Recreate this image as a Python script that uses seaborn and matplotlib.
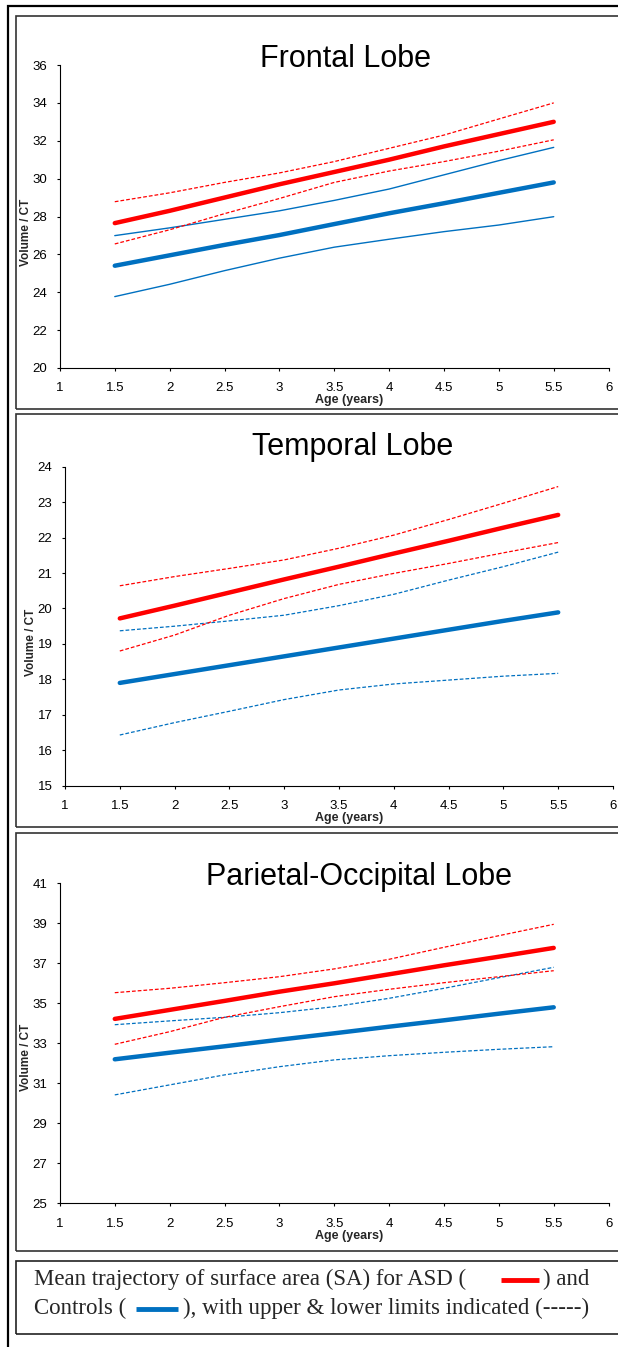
import matplotlib
matplotlib.use("Agg")
import matplotlib.pyplot as plt
from matplotlib.patches import Rectangle
from matplotlib.lines import Line2D
import seaborn as sns

# ---------------- data ----------------
ages = [1.5, 2, 2.5, 3, 3.5, 4, 4.5, 5, 5.5]

frontal_asd_mean = [27.65, 28.3, 29.0, 29.7, 30.35, 31.0, 31.7, 32.35, 33.0]
frontal_asd_upper = [28.78, 29.25, 29.8, 30.3, 30.9, 31.6, 32.3, 33.15, 34.0]
frontal_asd_lower = [26.55, 27.3, 28.15, 28.95, 29.8, 30.4, 30.9, 31.45, 32.05]
frontal_ctl_mean = [25.4, 25.95, 26.5, 27.02, 27.6, 28.17, 28.7, 29.25, 29.8]
frontal_ctl_upper = [26.99, 27.4, 27.85, 28.3, 28.85, 29.45, 30.2, 30.95, 31.65]
frontal_ctl_lower = [23.77, 24.42, 25.14, 25.8, 26.38, 26.8, 27.2, 27.55, 27.99]

temporal_asd_mean = [19.72, 20.08, 20.45, 20.82, 21.18, 21.55, 21.91, 22.28, 22.64]
temporal_asd_upper = [20.64, 20.9, 21.13, 21.37, 21.7, 22.07, 22.51, 22.97, 23.44]
temporal_asd_lower = [18.8, 19.25, 19.81, 20.28, 20.68, 20.99, 21.27, 21.57, 21.86]
temporal_ctl_mean = [17.9, 18.15, 18.4, 18.65, 18.9, 19.15, 19.4, 19.65, 19.89]
temporal_ctl_upper = [19.37, 19.5, 19.65, 19.81, 20.08, 20.4, 20.8, 21.18, 21.59]
temporal_ctl_lower = [16.43, 16.78, 17.1, 17.43, 17.7, 17.87, 17.98, 18.09, 18.17]

parietal_asd_mean = [34.22, 34.67, 35.12, 35.58, 36.0, 36.45, 36.9, 37.33, 37.77]
parietal_asd_upper = [35.53, 35.75, 36.03, 36.33, 36.72, 37.2, 37.8, 38.38, 38.95]
parietal_asd_lower = [32.95, 33.58, 34.3, 34.83, 35.33, 35.7, 36.03, 36.33, 36.63]
parietal_ctl_mean = [32.2, 32.53, 32.85, 33.18, 33.5, 33.83, 34.15, 34.48, 34.8]
parietal_ctl_upper = [33.93, 34.12, 34.3, 34.53, 34.83, 35.25, 35.75, 36.28, 36.8]
parietal_ctl_lower = [30.42, 30.92, 31.42, 31.83, 32.17, 32.38, 32.55, 32.7, 32.83]

titles = ["Frontal Lobe", "Temporal Lobe", "Parietal-Occipital Lobe"]
x_ticks = [1, 1.5, 2, 2.5, 3, 3.5, 4, 4.5, 5, 5.5, 6]
x_tick_labels = ["1", "1.5", "2", "2.5", "3", "3.5", "4", "4.5", "5", "5.5", "6"]
y_ticks_frontal = [20, 22, 24, 26, 28, 30, 32, 34, 36]
y_ticks_temporal = [15, 16, 17, 18, 19, 20, 21, 22, 23, 24]
y_ticks_parietal = [25, 27, 29, 31, 33, 35, 37, 39, 41]

legend_line1 = "Mean trajectory of surface area (SA) for ASD ("
legend_line1b = ") and"
legend_line2 = "Controls ("
legend_line2b = "), with upper & lower limits indicated (-----)"

# ---------------- style ----------------
sns.set_style("white")
plt.rcParams["font.family"] = ["Liberation Sans", "DejaVu Sans"]

W, H = 618, 1347
fig = plt.figure(figsize=(W / 100, H / 100), dpi=100)
fig.patch.set_facecolor("white")

RED = "#FF0000"
BLUE = "#0070C0"


def fx(px):
    return px / W


def fy(py):
    return 1 - py / H


def add_rect(x0, y0, x1, y1, lw, color):
    fig.patches.append(Rectangle((fx(x0), fy(y1)), fx(x1) - fx(x0), fy(y0) - fy(y1),
                                 transform=fig.transFigure, fill=False,
                                 linewidth=lw, edgecolor=color, zorder=0))


# outer border and panel boxes
add_rect(8.3, 5.7, 660, 1400, 1.6, "black")
add_rect(15.7, 16.3, 660, 409, 1.2, "#333333")
add_rect(15.7, 414.5, 660, 827, 1.2, "#333333")
add_rect(15.7, 833, 660, 1250.7, 1.2, "#333333")
add_rect(15.7, 1260.7, 660, 1334, 1.2, "#222222")

panels = [
    dict(title=titles[0], box=(59.9, 65, 608.6, 368), ylim=(20, 36), yticks=y_ticks_frontal,
         asd=(frontal_asd_mean, frontal_asd_upper, frontal_asd_lower),
         ctl=(frontal_ctl_mean, frontal_ctl_upper, frontal_ctl_lower),
         ctl_solid=True, title_xy=(345, 67), ylab_xy=(26, 232), xlab_y=399.5, xtl_y=387),
    dict(title=titles[1], box=(65, 466.7, 613, 785.7), ylim=(15, 24), yticks=y_ticks_temporal,
         asd=(temporal_asd_mean, temporal_asd_upper, temporal_asd_lower),
         ctl=(temporal_ctl_mean, temporal_ctl_upper, temporal_ctl_lower),
         ctl_solid=False, title_xy=(353, 455), ylab_xy=(31, 642), xlab_y=817.5, xtl_y=805),
    dict(title=titles[2], box=(59.9, 883.3, 608.6, 1203.3), ylim=(25, 41), yticks=y_ticks_parietal,
         asd=(parietal_asd_mean, parietal_asd_upper, parietal_asd_lower),
         ctl=(parietal_ctl_mean, parietal_ctl_upper, parietal_ctl_lower),
         ctl_solid=False, title_xy=(359, 885), ylab_xy=(26, 1057), xlab_y=1236, xtl_y=1223),
]

DASH = (0, (3, 1.6))

for p in panels:
    x0, y0, x1, y1 = p["box"]
    ax = fig.add_axes([fx(x0), fy(y1), fx(x1) - fx(x0), fy(y0) - fy(y1)])
    ax.set_facecolor("none")
    am, au, al = p["asd"]
    cm, cu, cl = p["ctl"]
    ctl_ls = "-" if p["ctl_solid"] else DASH
    ctl_lw = 1.0 if p["ctl_solid"] else 0.9
    sns.lineplot(x=ages, y=cu, ax=ax, color=BLUE, lw=ctl_lw, linestyle=ctl_ls)
    sns.lineplot(x=ages, y=cl, ax=ax, color=BLUE, lw=ctl_lw, linestyle=ctl_ls)
    sns.lineplot(x=ages, y=au, ax=ax, color=RED, lw=0.9, linestyle=DASH)
    sns.lineplot(x=ages, y=al, ax=ax, color=RED, lw=0.9, linestyle=DASH)
    sns.lineplot(x=ages, y=cm, ax=ax, color=BLUE, lw=3.2, solid_capstyle="round")
    sns.lineplot(x=ages, y=am, ax=ax, color=RED, lw=3.2, solid_capstyle="round")
    ax.set_xlim(1, 6)
    ax.set_ylim(*p["ylim"])
    ax.set_xticks(x_ticks)
    ax.set_xticklabels(x_tick_labels)
    ax.set_yticks(p["yticks"])
    ax.set_yticklabels([str(v) for v in p["yticks"]])
    for s in ["top", "right"]:
        ax.spines[s].set_visible(False)
    for s in ["left", "bottom"]:
        ax.spines[s].set_color("black")
        ax.spines[s].set_linewidth(0.8)
    ax.tick_params(axis="both", which="major", direction="out", length=2.5, width=0.8,
                   colors="black", labelsize=9.5, left=True, bottom=True)
    xpad = (p["xtl_y"] - y1) * 0.72 - 6.0
    ax.tick_params(axis="x", pad=xpad)
    ax.tick_params(axis="y", pad=6.5)
    ax.set_xlabel("")
    ax.set_ylabel("")
    fig.text(fx(p["title_xy"][0]), fy(p["title_xy"][1]), p["title"], fontsize=22,
             ha="center", va="baseline", color="black")
    fig.text(fx(p["ylab_xy"][0]), fy(p["ylab_xy"][1]), "Volume / CT", fontsize=8.5,
             fontweight="bold", rotation=90, ha="center", va="center")
    fig.text(fx(349), fy(p["xlab_y"]), "Age (years)", fontsize=9, fontweight="bold",
             ha="center", va="center")

# legend box text
serif = ["Liberation Serif", "DejaVu Serif"]
fs = 16.5
fig.text(fx(33.5), fy(1279), legend_line1, fontsize=fs, family=serif, ha="left", va="center")
fig.text(fx(543), fy(1279), legend_line1b, fontsize=fs, family=serif, ha="left", va="center")
fig.text(fx(33.5), fy(1308), legend_line2, fontsize=fs, family=serif, ha="left", va="center")
fig.text(fx(183), fy(1308), legend_line2b, fontsize=fs, family=serif, ha="left", va="center")
fig.lines.append(Line2D([fx(501), fx(539)], [fy(1280), fy(1280)], transform=fig.transFigure,
                        color=RED, lw=3.5, solid_capstyle="butt"))
fig.lines.append(Line2D([fx(136), fx(178)], [fy(1309), fy(1309)], transform=fig.transFigure,
                        color=BLUE, lw=3.5, solid_capstyle="butt"))

fig.savefig("out.png", dpi=100, facecolor="white")
